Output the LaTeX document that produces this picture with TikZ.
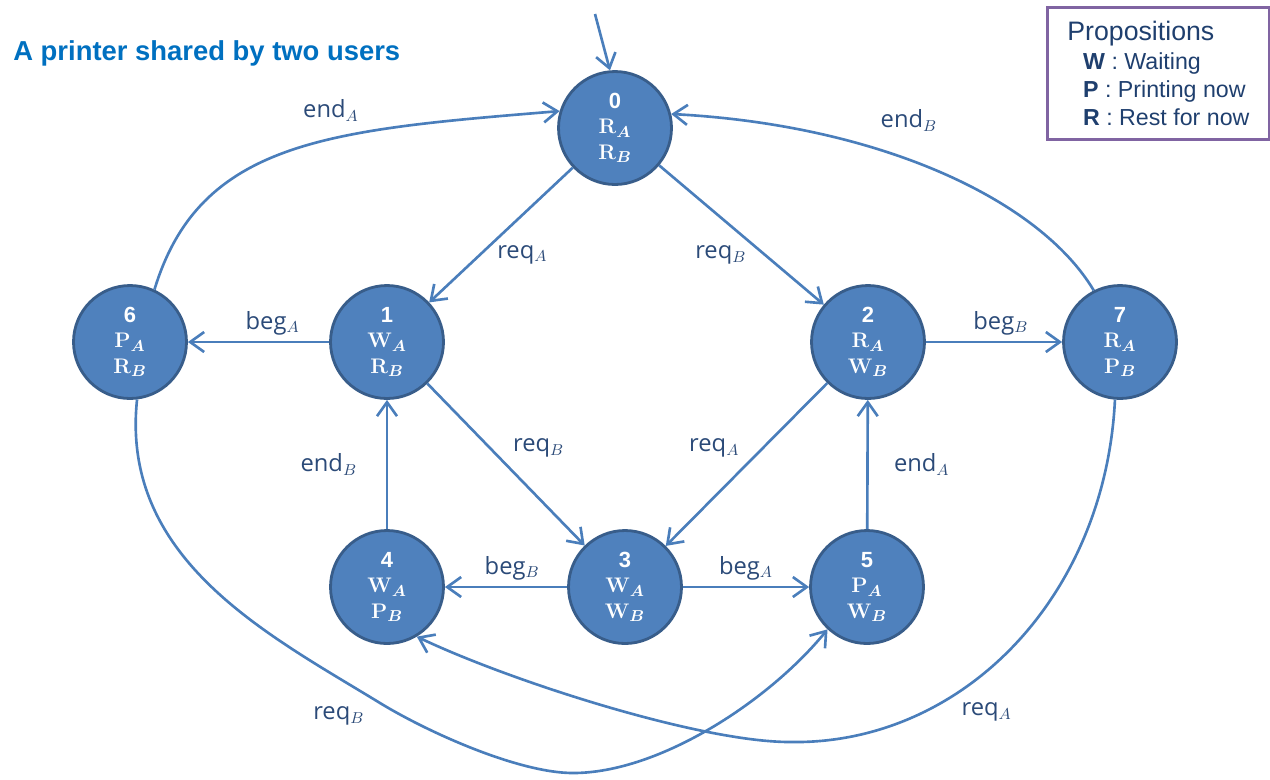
\documentclass[tikz,border=0pt]{standalone}
\usepackage{amsmath}
\usepackage[no-math]{fontspec}
\setmainfont{Liberation Sans}
\newfontfamily\labelfont{Open Sans}
\usetikzlibrary{positioning, arrows.meta}

\definecolor{statefill}{HTML}{4F81BD}
\definecolor{stateline}{HTML}{385D8A}
\definecolor{edgeblue}{HTML}{4A7EBB}
\definecolor{labelnavy}{HTML}{2B4A78}
\definecolor{titleblue}{HTML}{0070C0}
\definecolor{propnavy}{HTML}{1F3F6E}
\definecolor{propframe}{HTML}{8064A2}

% number, then the proposition of user A and of user B
\newcommand{\statelbl}[3]{#1\\$\mathbf{#2}_{\boldsymbol{A}}$\\$\mathbf{#3}_{\boldsymbol{B}}$}

\tikzset{
    state/.style = {circle, fill=statefill, draw=stateline, line width=1.6pt, minimum size=2.26cm, inner sep=0pt, text=white, align=center, font=\fontsize{12.5}{14.5}\selectfont\bfseries},
    trans/.style = {draw=edgeblue, line width=1.5pt, -{Straight Barb[length=2.8mm, width=4mm]}},
    lbl/.style = {text=labelnavy, font=\labelfont\fontsize{13.5}{16}\selectfont},
}

\begin{document}
\begin{tikzpicture}[x=0.02cm, y=-0.02cm]
    \useasboundingbox (0,0) rectangle (1270,779);

    \node[anchor=base west, inner sep=0pt, text=titleblue, font=\fontsize{15.6}{18}\selectfont\bfseries] (title) at (13,60) {A printer shared by two users};

    \node[draw=propframe, line width=1.6pt, minimum width=4.44cm, minimum height=2.64cm, anchor=north west, align=left, text=propnavy, font=\fontsize{13.2}{15.9}\selectfont] (props) at (1046,6)
        {{\fontsize{15.2}{17}\selectfont Propositions}\\[1pt]
         \hspace*{9pt}\textbf{W} : Waiting\\
         \hspace*{9pt}\textbf{P} : Printing now\\
         \hspace*{9pt}\textbf{R} : Rest for now};

    % states
    \node[state] (s0) at (615,128) {\statelbl{0}{R}{R}};
    \node[state] (s1) at (387,342) {\statelbl{1}{W}{R}};
    \node[state] (s2) at (868,342) {\statelbl{2}{R}{W}};
    \node[state] (s6) at (130,342) {\statelbl{6}{P}{R}};
    \node[state] (s7) at (1120,342) {\statelbl{7}{R}{P}};
    \node[state] (s3) at (625,587) {\statelbl{3}{W}{W}};
    \node[state] (s4) at (387,587) {\statelbl{4}{W}{P}};
    \node[state] (s5) at (867,587) {\statelbl{5}{P}{W}};

    \coordinate (init) at (595,14);
    \draw[trans] (init) -- (s0.95);

    % inner transitions
    \draw[trans] (s0) -- node[lbl, pos=.55, below right=-3pt] {req$_A$} (s1);
    \draw[trans] (s0) -- node[lbl, pos=.55, below left=-3pt] {req$_B$} (s2);
    \draw[trans] (s1) -- node[lbl, pos=.4, above] {beg$_A$} (s6);
    \draw[trans] (s2) -- node[lbl, pos=.55, above] {beg$_B$} (s7);
    \draw[trans] (s1) -- node[lbl, midway, above right] {req$_B$} (s3);
    \draw[trans] (s2) -- node[lbl, midway, above left] {req$_A$} (s3);
    \draw[trans] (s4) -- node[lbl, midway, left=13pt] {end$_B$} (s1);
    \draw[trans] (s5) -- node[lbl, midway, right=11pt] {end$_A$} (s2);
    \draw[trans] (s3) -- node[lbl, pos=.45, above] {beg$_B$} (s4);
    \draw[trans] (s3) -- node[lbl, midway, above] {beg$_A$} (s5);

    % outer arcs
    \draw[trans] (s6.65) .. controls (200,140) and (330,130) .. (s0.163) node[lbl, pos=.6, above=6pt] {end$_A$};
    \draw[trans] (s7.117) .. controls (1040,200) and (880,125) .. (s0.14) node[lbl, pos=.57, above=12pt] {end$_B$};
    \draw[trans] (s6.-83) .. controls (120,560) and (269,635) .. (380,703) node[lbl, pos=.88, below=12pt] {req$_B$}
        .. controls (431,734) and (520,773) .. (573,773)
        .. controls (660,773) and (770,700) .. (s5.-133);
    \draw[trans] (s7.-95) .. controls (1105,600) and (960,745) .. (790,742) node[lbl, pos=.57, below=14pt] {req$_A$}
        .. controls (700,742) and (510,681) .. (s4.-59);
\end{tikzpicture}
\end{document}
